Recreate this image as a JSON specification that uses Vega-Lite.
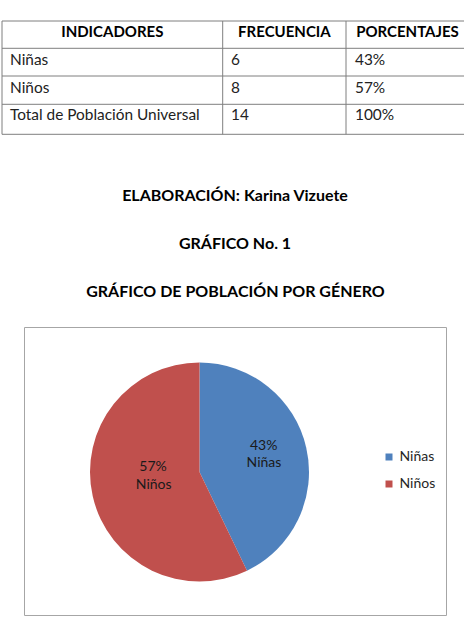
{
  "$schema": "https://vega.github.io/schema/vega-lite/v6.json",
  "width": 464,
  "height": 643,
  "padding": 0,
  "autosize": {"type": "none"},
  "background": "white",
  "config": {
    "view": {"stroke": null},
    "text": {"font": "Lato", "color": "#1a1a1a"},
    "legend": {"labelFont": "Lato"}
  },
  "datasets": {
    "tabla": [
      {"indicador": "Niñas", "frecuencia": 6, "porcentaje": "43%"},
      {"indicador": "Niños", "frecuencia": 8, "porcentaje": "57%"},
      {"indicador": "Total de Población Universal", "frecuencia": 14, "porcentaje": "100%"}
    ],
    "uno": [{}]
  },
  "data": {"name": "tabla"},
  "resolve": {"scale": {"y": "independent"}},
  "layer": [
    {
      "data": {"name": "uno"},
      "mark": {"type": "rule", "color": "#7f7f7f", "strokeWidth": 1},
      "encoding": {
        "x": {"datum": 2, "type": "quantitative", "scale": {"domain": [0, 464], "range": [0, 464], "nice": false, "zero": false}, "axis": null},
        "x2": {"datum": 464},
        "y": {"datum": 21, "type": "quantitative", "scale": {"domain": [0, 643], "range": [0, 643], "nice": false, "zero": false}, "axis": null}
      }
    },
    {
      "data": {"name": "uno"},
      "mark": {"type": "rule", "color": "#7f7f7f", "strokeWidth": 1},
      "encoding": {
        "x": {"datum": 2, "type": "quantitative", "axis": null},
        "x2": {"datum": 464},
        "y": {"datum": 48.3, "type": "quantitative", "scale": {"domain": [0, 643], "range": [0, 643], "nice": false, "zero": false}, "axis": null}
      }
    },
    {
      "data": {"name": "uno"},
      "mark": {"type": "rule", "color": "#7f7f7f", "strokeWidth": 1},
      "encoding": {
        "x": {"datum": 2, "type": "quantitative", "axis": null},
        "x2": {"datum": 464},
        "y": {"datum": 76, "type": "quantitative", "scale": {"domain": [0, 643], "range": [0, 643], "nice": false, "zero": false}, "axis": null}
      }
    },
    {
      "data": {"name": "uno"},
      "mark": {"type": "rule", "color": "#7f7f7f", "strokeWidth": 1},
      "encoding": {
        "x": {"datum": 2, "type": "quantitative", "axis": null},
        "x2": {"datum": 464},
        "y": {"datum": 104.3, "type": "quantitative", "scale": {"domain": [0, 643], "range": [0, 643], "nice": false, "zero": false}, "axis": null}
      }
    },
    {
      "data": {"name": "uno"},
      "mark": {"type": "rule", "color": "#7f7f7f", "strokeWidth": 1},
      "encoding": {
        "x": {"datum": 2, "type": "quantitative", "axis": null},
        "x2": {"datum": 464},
        "y": {"datum": 134.3, "type": "quantitative", "scale": {"domain": [0, 643], "range": [0, 643], "nice": false, "zero": false}, "axis": null}
      }
    },
    {
      "data": {"name": "uno"},
      "mark": {"type": "rule", "color": "#7f7f7f", "strokeWidth": 1},
      "encoding": {
        "x": {"datum": 2, "type": "quantitative", "axis": null},
        "y": {"datum": 21, "type": "quantitative", "scale": {"domain": [0, 643], "range": [0, 643], "nice": false, "zero": false}, "axis": null},
        "y2": {"datum": 134.3}
      }
    },
    {
      "data": {"name": "uno"},
      "mark": {"type": "rule", "color": "#7f7f7f", "strokeWidth": 1},
      "encoding": {
        "x": {"datum": 222.7, "type": "quantitative", "axis": null},
        "y": {"datum": 21, "type": "quantitative", "scale": {"domain": [0, 643], "range": [0, 643], "nice": false, "zero": false}, "axis": null},
        "y2": {"datum": 134.3}
      }
    },
    {
      "data": {"name": "uno"},
      "mark": {"type": "rule", "color": "#7f7f7f", "strokeWidth": 1},
      "encoding": {
        "x": {"datum": 346, "type": "quantitative", "axis": null},
        "y": {"datum": 21, "type": "quantitative", "scale": {"domain": [0, 643], "range": [0, 643], "nice": false, "zero": false}, "axis": null},
        "y2": {"datum": 134.3}
      }
    },
    {
      "data": {"name": "uno"},
      "mark": {"type": "text", "text": "INDICADORES", "fontWeight": "bold", "fontSize": 15, "align": "center", "baseline": "alphabetic", "color": "#000000"},
      "encoding": {
        "x": {"datum": 112.3, "type": "quantitative", "axis": null},
        "y": {"datum": 36.7, "type": "quantitative", "scale": {"domain": [0, 643], "range": [0, 643], "nice": false, "zero": false}, "axis": null}
      }
    },
    {
      "data": {"name": "uno"},
      "mark": {"type": "text", "text": "FRECUENCIA", "fontWeight": "bold", "fontSize": 15, "align": "center", "baseline": "alphabetic", "color": "#000000"},
      "encoding": {
        "x": {"datum": 284.4, "type": "quantitative", "axis": null},
        "y": {"datum": 36.7, "type": "quantitative", "scale": {"domain": [0, 643], "range": [0, 643], "nice": false, "zero": false}, "axis": null}
      }
    },
    {
      "data": {"name": "uno"},
      "mark": {"type": "text", "text": "PORCENTAJES", "fontWeight": "bold", "fontSize": 15, "align": "center", "baseline": "alphabetic", "color": "#000000"},
      "encoding": {
        "x": {"datum": 407.5, "type": "quantitative", "axis": null},
        "y": {"datum": 36.7, "type": "quantitative", "scale": {"domain": [0, 643], "range": [0, 643], "nice": false, "zero": false}, "axis": null}
      }
    },
    {
      "mark": {"type": "text", "fontSize": 15.4, "align": "left", "baseline": "alphabetic", "color": "#222222"},
      "encoding": {
        "text": {"field": "indicador"},
        "x": {"datum": 10, "type": "quantitative", "axis": null},
        "y": {"field": "indicador", "type": "ordinal", "sort": null, "scale": {"type": "point", "range": [65, 120.3], "padding": 0}, "axis": null}
      }
    },
    {
      "mark": {"type": "text", "fontSize": 15.4, "align": "left", "baseline": "alphabetic", "color": "#222222"},
      "encoding": {
        "text": {"field": "frecuencia"},
        "x": {"datum": 231, "type": "quantitative", "axis": null},
        "y": {"field": "indicador", "type": "ordinal", "sort": null, "scale": {"type": "point", "range": [65, 120.3], "padding": 0}, "axis": null}
      }
    },
    {
      "mark": {"type": "text", "fontSize": 15.4, "align": "left", "baseline": "alphabetic", "color": "#222222"},
      "encoding": {
        "text": {"field": "porcentaje"},
        "x": {"datum": 355, "type": "quantitative", "axis": null},
        "y": {"field": "indicador", "type": "ordinal", "sort": null, "scale": {"type": "point", "range": [65, 120.3], "padding": 0}, "axis": null}
      }
    },
    {
      "data": {"name": "uno"},
      "mark": {"type": "text", "text": "ELABORACIÓN: Karina Vizuete", "fontWeight": "bold", "fontSize": 16, "align": "center", "baseline": "alphabetic", "color": "#000000"},
      "encoding": {
        "x": {"datum": 235, "type": "quantitative", "axis": null},
        "y": {"datum": 201, "type": "quantitative", "scale": {"domain": [0, 643], "range": [0, 643], "nice": false, "zero": false}, "axis": null}
      }
    },
    {
      "data": {"name": "uno"},
      "mark": {"type": "text", "text": "GRÁFICO No. 1", "fontWeight": "bold", "fontSize": 16, "align": "center", "baseline": "alphabetic", "color": "#000000"},
      "encoding": {
        "x": {"datum": 235, "type": "quantitative", "axis": null},
        "y": {"datum": 249.3, "type": "quantitative", "scale": {"domain": [0, 643], "range": [0, 643], "nice": false, "zero": false}, "axis": null}
      }
    },
    {
      "data": {"name": "uno"},
      "mark": {"type": "text", "text": "GRÁFICO  DE POBLACIÓN POR  GÉNERO", "fontWeight": "bold", "fontSize": 16, "align": "center", "baseline": "alphabetic", "color": "#000000"},
      "encoding": {
        "x": {"datum": 235.5, "type": "quantitative", "axis": null},
        "y": {"datum": 296.7, "type": "quantitative", "scale": {"domain": [0, 643], "range": [0, 643], "nice": false, "zero": false}, "axis": null}
      }
    },
    {
      "data": {"name": "uno"},
      "mark": {"type": "rect", "fill": null, "fillOpacity": 0, "stroke": "#a6a6a6", "strokeWidth": 1},
      "encoding": {
        "x": {"datum": 24.5, "type": "quantitative", "axis": null},
        "x2": {"datum": 446.5},
        "y": {"datum": 327.5, "type": "quantitative", "scale": {"domain": [0, 643], "range": [0, 643], "nice": false, "zero": false}, "axis": null},
        "y2": {"datum": 615.5}
      }
    },
    {
      "transform": [{"filter": "datum.indicador !== 'Total de Población Universal'"}],
      "mark": {"type": "arc", "outerRadius": 109.5},
      "encoding": {
        "theta": {"field": "frecuencia", "type": "quantitative", "stack": true},
        "order": {"field": "indicador", "sort": "ascending"},
        "color": {
          "field": "indicador",
          "type": "nominal",
          "scale": {"domain": ["Niñas", "Niños"], "range": ["#4F81BD", "#C0504D"]},
          "legend": {
            "orient": "none",
            "legendX": 382,
            "legendY": 450,
            "title": null,
            "symbolType": "square",
            "symbolSize": 49,
            "symbolStrokeWidth": 0,
            "labelFontSize": 14,
            "labelColor": "#262626",
            "labelOffset": 3.5,
            "rowPadding": 13,
            "padding": 0
          }
        },
        "x": {"datum": 199.5, "type": "quantitative", "axis": null},
        "y": {"datum": 472, "type": "quantitative", "scale": {"domain": [0, 643], "range": [0, 643], "nice": false, "zero": false}, "axis": null}
      }
    },
    {
      "transform": [{"filter": "datum.indicador === 'Niñas'"}],
      "mark": {"type": "text", "fontSize": 14, "align": "center", "baseline": "alphabetic", "color": "#1a1a1a"},
      "encoding": {
        "text": {"field": "porcentaje"},
        "x": {"datum": 263.7, "type": "quantitative", "axis": null},
        "y": {"datum": 450, "type": "quantitative", "scale": {"domain": [0, 643], "range": [0, 643], "nice": false, "zero": false}, "axis": null}
      }
    },
    {
      "transform": [{"filter": "datum.indicador === 'Niñas'"}],
      "mark": {"type": "text", "fontSize": 14, "align": "center", "baseline": "alphabetic", "color": "#1a1a1a"},
      "encoding": {
        "text": {"field": "indicador"},
        "x": {"datum": 264, "type": "quantitative", "axis": null},
        "y": {"datum": 467, "type": "quantitative", "scale": {"domain": [0, 643], "range": [0, 643], "nice": false, "zero": false}, "axis": null}
      }
    },
    {
      "transform": [{"filter": "datum.indicador === 'Niños'"}],
      "mark": {"type": "text", "fontSize": 14, "align": "center", "baseline": "alphabetic", "color": "#1a1a1a"},
      "encoding": {
        "text": {"field": "porcentaje"},
        "x": {"datum": 153, "type": "quantitative", "axis": null},
        "y": {"datum": 470.7, "type": "quantitative", "scale": {"domain": [0, 643], "range": [0, 643], "nice": false, "zero": false}, "axis": null}
      }
    },
    {
      "transform": [{"filter": "datum.indicador === 'Niños'"}],
      "mark": {"type": "text", "fontSize": 14, "align": "center", "baseline": "alphabetic", "color": "#1a1a1a"},
      "encoding": {
        "text": {"field": "indicador"},
        "x": {"datum": 153.7, "type": "quantitative", "axis": null},
        "y": {"datum": 488.7, "type": "quantitative", "scale": {"domain": [0, 643], "range": [0, 643], "nice": false, "zero": false}, "axis": null}
      }
    }
  ]
}
